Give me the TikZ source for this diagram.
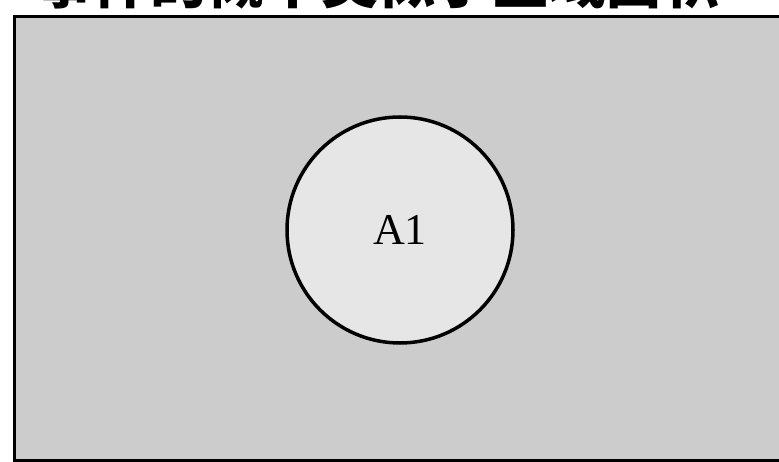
\documentclass[tikz,border=0pt]{standalone}
\usepackage{xcolor}
\usepackage{fontspec}
\setmainfont{Liberation Serif}
\newfontfamily\cjk{Noto Sans CJK SC}
\definecolor{spacegray}{HTML}{CCCCCC}
\definecolor{eventgray}{HTML}{E6E6E6}
\begin{document}
\begin{tikzpicture}[x=1pt,y=-1pt,
  space/.style={draw=black,line width=3.5pt,fill=spacegray},
  event/.style={circle,draw=black,line width=3.5pt,fill=eventgray,
                minimum size=226pt,inner sep=0pt,
                font=\fontsize{44}{46}\selectfont},
  heading/.style={font=\cjk\bfseries\fontsize{57}{60}\selectfont,anchor=base}]
  \useasboundingbox (0,0) rectangle (779,462);
  \node[heading] (title) at (378,4) {事件的概率类似于区域面积};
  \draw[space] (14.5,16.5) rectangle (800,460.5);
  \node[event] (a1) at (400,230) {A1};
\end{tikzpicture}
\end{document}
